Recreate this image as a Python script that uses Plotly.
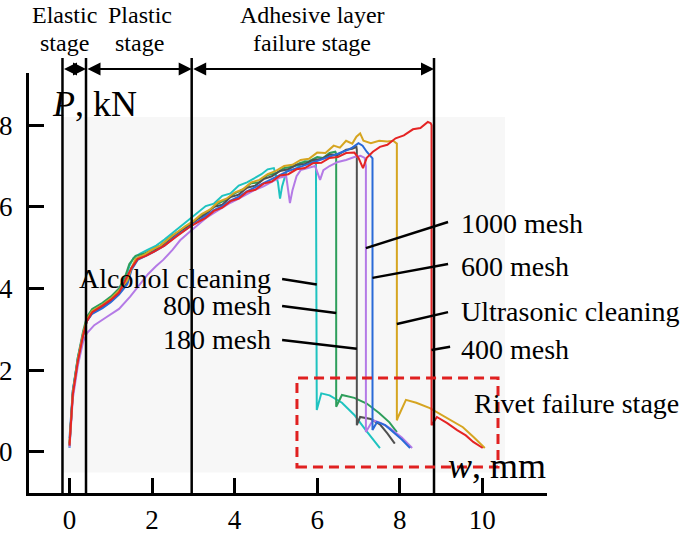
import plotly.graph_objects as go

FONT = "Liberation Serif, Times New Roman, serif"

# ---- data ----
ALCOHOL_X = [0.0, 0.08, 0.2, 0.33, 0.42, 0.55, 0.8, 1.0, 1.2, 1.35, 1.45, 1.55, 1.7, 1.9, 2.1, 2.3, 2.6, 2.9,
             3.1, 3.3, 3.5, 3.7, 3.9, 4.1, 4.3, 4.5, 4.65, 4.8, 4.95, 5.05, 5.1, 5.15, 5.25, 5.4, 5.55, 5.7,
             5.85, 5.97, 5.99, 5.99, 6.1, 6.3, 6.6, 6.9, 7.2, 7.52]
ALCOHOL_Y = [0.09, 1.5, 2.3, 2.9, 3.25, 3.45, 3.6, 3.75, 3.95, 4.2, 4.55, 4.75, 4.85, 4.95, 5.05, 5.2, 5.45, 5.68,
             5.85, 6.02, 6.08, 6.27, 6.33, 6.52, 6.6, 6.72, 6.8, 6.92, 6.95, 6.6, 6.2, 6.5, 6.85, 7.02, 7.0, 7.12,
             7.08, 7.15, 2.0, 1.02, 1.43, 1.38, 1.2, 0.9, 0.5, 0.09]

MESH800_X = [0.0, 0.08, 0.2, 0.33, 0.42, 0.55, 0.8, 1.0, 1.2, 1.35, 1.45, 1.6, 1.8, 2.0, 2.2, 2.5, 2.8, 3.0,
             3.2, 3.4, 3.6, 3.8, 4.0, 4.2, 4.4, 4.6, 4.8, 5.0, 5.2, 5.4, 5.6, 5.8, 6.0, 6.15, 6.3, 6.44,
             6.46, 6.46, 6.6, 6.9, 7.2, 7.5, 7.75, 7.93]
MESH800_Y = [0.15, 1.45, 2.3, 2.95, 3.3, 3.5, 3.65, 3.8, 4.0, 4.3, 4.6, 4.8, 4.85, 4.95, 5.05, 5.3, 5.5, 5.62,
             5.8, 5.92, 6.08, 6.18, 6.33, 6.42, 6.58, 6.6, 6.78, 6.82, 6.95, 6.98, 7.08, 7.12, 7.22, 7.2, 7.32, 7.35,
             7.3, 1.10, 1.39, 1.32, 1.18, 0.95, 0.72, 0.48]

MESH180_X = [0.0, 0.08, 0.2, 0.33, 0.42, 0.55, 0.8, 1.0, 1.2, 1.4, 1.5, 1.65, 1.85, 2.05, 2.3, 2.6, 2.9, 3.1,
             3.3, 3.5, 3.7, 3.9, 4.1, 4.3, 4.5, 4.7, 4.9, 5.1, 5.3, 5.5, 5.7, 5.9, 6.1, 6.3, 6.5, 6.7, 6.85,
             6.95, 6.96, 6.96, 7.04, 7.3, 7.52, 7.7, 7.88]
MESH180_Y = [0.2, 1.4, 2.2, 2.85, 3.2, 3.4, 3.55, 3.7, 3.9, 4.15, 4.5, 4.75, 4.82, 4.92, 5.1, 5.35, 5.55, 5.7,
             5.82, 6.0, 6.05, 6.24, 6.3, 6.47, 6.52, 6.68, 6.75, 6.88, 6.92, 7.03, 7.05, 7.15, 7.17, 7.28, 7.27, 7.4, 7.42,
             7.47, 7.4, 0.65, 0.85, 0.8, 0.67, 0.45, 0.2]

MESH1000_X = [0.0, 0.08, 0.2, 0.33, 0.42, 0.6, 0.9, 1.2, 1.47, 1.7, 1.9, 2.1, 2.27, 2.5, 2.68, 2.9, 3.1, 3.3,
              3.5, 3.7, 3.9, 4.1, 4.3, 4.5, 4.7, 4.9, 5.1, 5.25, 5.34, 5.4, 5.5, 5.6, 5.8, 5.95, 6.07, 6.15,
              6.3, 6.5, 6.7, 6.9, 7.05, 7.15, 7.18, 7.18, 7.35, 7.55, 7.76, 8.05, 8.3]
MESH1000_Y = [0.1, 1.3, 2.1, 2.7, 2.9, 3.1, 3.3, 3.5, 3.8, 4.1, 4.35, 4.55, 4.7, 4.95, 5.18, 5.38, 5.55, 5.72,
              5.85, 5.98, 6.1, 6.2, 6.32, 6.42, 6.5, 6.6, 6.72, 6.75, 6.09, 6.4, 6.75, 6.9, 6.95, 7.0, 6.66, 6.9,
              7.0, 7.1, 7.15, 7.22, 7.25, 7.2, 7.0, 0.48, 0.77, 0.7, 0.58, 0.35, 0.09]

MESH600_X = [0.0, 0.08, 0.2, 0.33, 0.42, 0.55, 0.8, 1.0, 1.2, 1.4, 1.5, 1.65, 1.85, 2.05, 2.3, 2.6, 2.9, 3.1,
             3.3, 3.5, 3.7, 3.9, 4.1, 4.3, 4.5, 4.7, 4.9, 5.1, 5.3, 5.5, 5.7, 5.9, 6.1, 6.3, 6.5, 6.7, 6.85,
             7.0, 7.1, 7.2, 7.3, 7.34, 7.34, 7.45, 7.65, 7.84, 8.05, 8.25]
MESH600_Y = [0.33, 1.5, 2.25, 2.9, 3.2, 3.38, 3.52, 3.66, 3.85, 4.1, 4.45, 4.7, 4.8, 4.9, 5.05, 5.3, 5.5, 5.65,
             5.78, 5.92, 6.02, 6.15, 6.25, 6.38, 6.48, 6.58, 6.7, 6.8, 6.88, 6.95, 7.02, 7.08, 7.15, 7.22, 7.3, 7.38, 7.45,
             7.56, 7.5, 7.35, 7.22, 7.19, 0.53, 0.73, 0.65, 0.48, 0.3, 0.09]

ULTRA_X = [0.0, 0.08, 0.2, 0.33, 0.42, 0.55, 0.8, 1.0, 1.2, 1.4, 1.5, 1.6, 1.8, 2.0, 2.2, 2.5, 2.8, 3.0,
           3.2, 3.4, 3.6, 3.8, 4.0, 4.2, 4.4, 4.6, 4.8, 5.0, 5.2, 5.4, 5.6, 5.8, 6.0, 6.2, 6.4, 6.55, 6.7,
           6.85, 6.95, 7.04, 7.12, 7.3, 7.5, 7.7, 7.84, 7.93, 7.93, 7.96, 8.15, 8.4, 8.73, 9.1, 9.53, 9.8, 10.06]
ULTRA_Y = [0.2, 1.45, 2.25, 2.9, 3.25, 3.45, 3.6, 3.75, 3.95, 4.2, 4.5, 4.72, 4.82, 4.95, 5.05, 5.3, 5.52, 5.65,
           5.82, 5.93, 6.12, 6.2, 6.35, 6.43, 6.6, 6.66, 6.8, 6.88, 7.0, 7.03, 7.15, 7.18, 7.33, 7.32, 7.5, 7.45, 7.62,
           7.55, 7.72, 7.8, 7.62, 7.56, 7.62, 7.6, 7.62, 7.55, 0.77, 0.85, 1.27, 1.2, 1.07, 0.85, 0.6, 0.35, 0.09]

MESH400_X = [0.0, 0.08, 0.2, 0.33, 0.42, 0.55, 0.8, 1.0, 1.2, 1.35, 1.5, 1.65, 1.85, 2.05, 2.3, 2.6, 2.9, 3.1,
             3.3, 3.5, 3.7, 3.9, 4.1, 4.3, 4.5, 4.7, 4.9, 5.1, 5.3, 5.5, 5.7, 5.9, 6.1, 6.3, 6.5, 6.7, 6.9,
             7.0, 7.11, 7.2, 7.35, 7.52, 7.7, 7.9, 8.1, 8.32, 8.5, 8.68, 8.75, 8.77, 8.77, 8.9, 9.15, 9.39, 9.6,
             9.78, 10.01]
MESH400_Y = [0.15, 1.4, 2.2, 2.85, 3.2, 3.42, 3.58, 3.72, 3.9, 4.2, 4.5, 4.72, 4.8, 4.9, 5.05, 5.28, 5.5, 5.62,
             5.73, 5.9, 5.98, 6.14, 6.2, 6.37, 6.42, 6.57, 6.62, 6.77, 6.8, 6.92, 6.95, 7.07, 7.08, 7.2, 7.22, 7.32, 7.33,
             7.2, 6.95, 7.2, 7.35, 7.47, 7.52, 7.68, 7.75, 7.9, 7.93, 8.08, 8.05, 8.0, 0.65, 0.85, 0.7, 0.53, 0.4,
             0.24, 0.09]

SERIES = [
    ("Alcohol cleaning", ALCOHOL_X, ALCOHOL_Y, "#1ec3c0"),
    ("800 mesh", MESH800_X, MESH800_Y, "#2e9e5b"),
    ("180 mesh", MESH180_X, MESH180_Y, "#505050"),
    ("1000 mesh", MESH1000_X, MESH1000_Y, "#b47ae6"),
    ("600 mesh", MESH600_X, MESH600_Y, "#2a6ad8"),
    ("Ultrasonic cleaning", ULTRA_X, ULTRA_Y, "#d6a521"),
    ("400 mesh", MESH400_X, MESH400_Y, "#e52424"),
]

X_TICKS = [0, 2, 4, 6, 8, 10]
Y_TICKS = [0, 2, 4, 6, 8]

# stage boundaries (mm) and their labels
STAGE_BOUNDS = [-0.17, 0.4, 2.96, 8.83]
STAGE_LABELS = [("Elastic", "stage"), ("Plastic", "stage"), ("Adhesive layer", "failure stage")]
STAGE_LABEL_X = [-0.11, 1.7, 5.88]

# leader labels: text, text x, text y, line start, line end
LEFT_LABELS = [
    ("Alcohol cleaning", 4.92, 4.24, (5.15, 4.23), (5.99, 4.10)),
    ("800 mesh", 4.93, 3.59, (5.15, 3.57), (6.46, 3.40)),
    ("180 mesh", 4.93, 2.76, (5.15, 2.74), (6.96, 2.52)),
]
RIGHT_LABELS = [
    ("1000 mesh", 9.44, 5.60, (9.17, 5.63), (7.18, 4.99)),
    ("600 mesh", 9.44, 4.55, (9.17, 4.60), (7.34, 4.26)),
    ("Ultrasonic cleaning", 9.44, 3.44, (9.17, 3.42), (7.93, 3.13)),
    ("400 mesh", 9.44, 2.51, (9.22, 2.57), (8.77, 2.49)),
]

fig = go.Figure()

for name, xs, ys, color in SERIES:
    fig.add_trace(go.Scatter(x=xs, y=ys, mode="lines", name=name,
                             line=dict(color=color, width=2), showlegend=False))

shapes = []
# light grey backdrop of the original plot
shapes.append(dict(type="rect", xref="x", yref="y", x0=-0.18, x1=10.55, y0=-0.51, y1=8.2,
                   fillcolor="#f7f7f7", line=dict(width=0), layer="below"))
# stage boundary lines
for b in STAGE_BOUNDS:
    shapes.append(dict(type="line", xref="x", yref="paper", x0=b, x1=b, y0=0, y1=1.036,
                       line=dict(color="black", width=2.5)))
# rivet failure box
shapes.append(dict(type="rect", xref="x", yref="y", x0=5.51, x1=10.38, y0=-0.375, y1=1.806,
                   line=dict(color="#e02020", width=3, dash="10px,6px")))
# leader lines
for _, _, _, (x0, y0), (x1, y1) in LEFT_LABELS + RIGHT_LABELS:
    shapes.append(dict(type="line", xref="x", yref="y", x0=x0, y0=y0, x1=x1, y1=y1,
                       line=dict(color="black", width=2.5)))

ann = []
# double-headed stage arrows
for a, b in zip(STAGE_BOUNDS[:-1], STAGE_BOUNDS[1:]):
    ann.append(dict(x=b, y=1.0095, xref="x", yref="paper", ax=a, ay=0, axref="x", ayref="pixel",
                    text="", showarrow=True, arrowhead=2, arrowside="end+start", arrowsize=1.3,
                    arrowwidth=2, arrowcolor="black", standoff=0, startstandoff=0))
for (l1, l2), lx in zip(STAGE_LABELS, STAGE_LABEL_X):
    ann.append(dict(x=lx, y=1.137, xref="x", yref="paper", text=l1, showarrow=False,
                    xanchor="center", yanchor="middle", font=dict(size=24)))
    ann.append(dict(x=lx, y=1.071, xref="x", yref="paper", text=l2, showarrow=False,
                    xanchor="center", yanchor="middle", font=dict(size=24)))

for text, tx, ty, _, _ in LEFT_LABELS:
    ann.append(dict(x=tx, y=ty, xref="x", yref="y", text=text, showarrow=False,
                    xanchor="right", yanchor="middle", font=dict(size=28)))
for text, tx, ty, _, _ in RIGHT_LABELS:
    ann.append(dict(x=tx, y=ty, xref="x", yref="y", text=text, showarrow=False,
                    xanchor="left", yanchor="middle", font=dict(size=28)))
ann.append(dict(x=9.76, y=1.18, xref="x", yref="y", text="Rivet failure stage", showarrow=False,
                xanchor="left", yanchor="middle", font=dict(size=28)))

# axis titles placed as in the original
ann.append(dict(x=-0.47, y=8.52, xref="x", yref="y", text="<i>P</i>, kN", showarrow=False,
                xanchor="left", yanchor="middle", font=dict(size=36)))
ann.append(dict(x=9.12, y=-0.34, xref="x", yref="y", text="<i>w</i>, mm", showarrow=False,
                xanchor="left", yanchor="middle", font=dict(size=36)))

fig.update_layout(
    width=685, height=535,
    margin=dict(l=29, r=138, t=73, b=42, autoexpand=False),
    plot_bgcolor="white", paper_bgcolor="white",
    font=dict(family=FONT, size=27, color="black"),
    shapes=shapes, annotations=ann,
    xaxis=dict(range=[-0.981, 11.567], tickvals=X_TICKS, ticks="inside", ticklen=15, tickwidth=3,
               tickcolor="black", showline=True, linewidth=3, linecolor="black", showgrid=False,
               zeroline=False, tickfont=dict(size=27), ticklabelstandoff=1, automargin=False),
    yaxis=dict(range=[-1.012, 9.28], tickvals=Y_TICKS, ticks="inside", ticklen=15, tickwidth=3,
               tickcolor="black", showline=True, linewidth=3, linecolor="black", showgrid=False,
               zeroline=False, tickfont=dict(size=27), ticklabelstandoff=8, automargin=False),
)

# the page body has a default 8px margin; drop it so the figure sits at the corner
fig.write_html("out.html", config={"displayModeBar": False},
               post_script="document.body.style.margin='0';")
